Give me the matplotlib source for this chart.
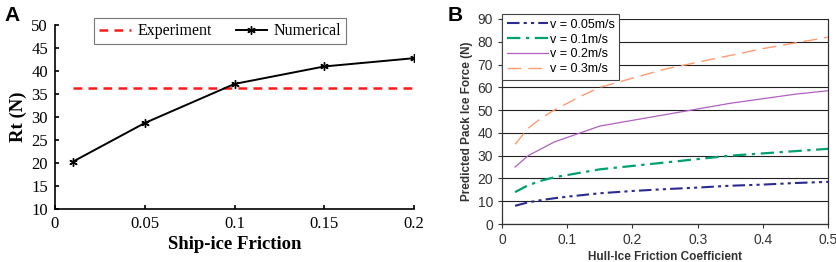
import matplotlib.pyplot as plt
from matplotlib.lines import Line2D

# Panel A data
friction_a = [0.01, 0.05, 0.1, 0.15, 0.2]
rt_numerical = [20.3, 28.7, 37.2, 41.0, 42.8]
rt_experiment = 36.3

# Panel B data
friction_b = [0.02, 0.04, 0.06, 0.08, 0.1, 0.12, 0.15, 0.2, 0.25, 0.3, 0.35, 0.4, 0.45, 0.5]
force_v005 = [8.0, 9.5, 10.5, 11.3, 12.0, 12.6, 13.5, 14.5, 15.3, 16.0, 16.8, 17.3, 18.0, 18.5]
force_v01 = [14.0, 17.0, 19.0, 20.5, 21.5, 22.5, 24.0, 25.5, 27.0, 28.5, 30.0, 31.0, 32.0, 33.0]
force_v02 = [25.0, 30.0, 33.0, 36.0, 38.0, 40.0, 43.0, 45.5, 48.0, 50.5, 53.0, 55.0, 57.0, 58.5]
force_v03 = [35.0, 42.0, 46.5, 50.0, 53.0, 56.0, 60.0, 64.0, 68.0, 71.0, 74.0, 77.0, 79.5, 82.0]
labels_b = ['v = 0.05m/s', 'v = 0.1m/s', 'v = 0.2m/s', 'v = 0.3m/s']

fig = plt.figure(figsize=(8.37, 2.62), dpi=100)

# ---- Panel A ----
serif = 'Liberation Serif'
axa = fig.add_axes([0.0657, 0.2023, 0.429, 0.702])
axa.plot([friction_a[0], friction_a[-1]], [rt_experiment, rt_experiment],
         color='#ff1a1a', ls=(0, (3.5, 2.5)), lw=1.8, label='Experiment')
axa.plot(friction_a, rt_numerical, color='black', lw=1.4, marker=(6, 2, 0),
         ms=6, mew=1.0, label='Numerical')
axa.set_xlim(0, 0.2)
axa.set_ylim(10, 50)
axa.set_xticks([0, 0.05, 0.1, 0.15, 0.2])
axa.set_xticklabels(['0', '0.05', '0.1', '0.15', '0.2'])
axa.set_yticks(range(10, 51, 5))
axa.spines['top'].set_visible(False)
axa.spines['right'].set_visible(False)
for s in ('left', 'bottom'):
    axa.spines[s].set_linewidth(1.2)
axa.tick_params(direction='in', length=3, width=1.2, labelsize=12, pad=5)
for lab in axa.get_xticklabels() + axa.get_yticklabels():
    lab.set_fontfamily(serif)
axa.set_xlabel('Ship-ice Friction', fontfamily=serif, fontsize=13.5, fontweight='bold', labelpad=3)
axa.set_ylabel('Rt (N)', fontfamily=serif, fontsize=13.5, fontweight='bold', labelpad=3)
leg = axa.legend(loc='upper center', bbox_to_anchor=(0.46, 1.08), ncol=2, frameon=True,
                 fancybox=False, edgecolor='#555555', prop={'family': serif, 'size': 11.5},
                 handlelength=2.0, columnspacing=1.5, borderpad=0.3, handletextpad=0.4)
leg.get_frame().set_linewidth(0.8)
fig.text(0.005, 0.92, 'A', fontsize=15, fontweight='bold', family='Liberation Sans')

# ---- Panel B ----
axb = fig.add_axes([0.5998, 0.145, 0.3895, 0.7825])
axb.yaxis.grid(True, color='#222222', lw=0.8)
axb.set_axisbelow(True)
axb.plot(friction_b, force_v005, color='#2a2a90', lw=1.5, ls=(0, (6, 2, 1.5, 2, 1.5, 2)))
axb.plot(friction_b, force_v01, color='#00a070', lw=1.6, ls=(0, (6, 2.5, 1.5, 2.5)))
axb.plot(friction_b, force_v02, color='#b060c0', lw=0.9, ls='-')
axb.plot(friction_b, force_v03, color='#ff9a70', lw=1.0, ls=(0, (10, 5)))
axb.set_xlim(0, 0.5)
axb.set_ylim(0, 90)
axb.set_xticks([0, 0.1, 0.2, 0.3, 0.4, 0.5])
axb.set_xticklabels(['0', '0.1', '0.2', '0.3', '0.4', '0.5'])
axb.set_yticks(range(0, 91, 10))
axb.spines['top'].set_visible(False)
for s in axb.spines.values():
    s.set_color('#333333')
    s.set_linewidth(0.9)
axb.tick_params(direction='out', length=3, width=0.8, labelsize=10, colors='#333333')
for lab in axb.get_xticklabels() + axb.get_yticklabels():
    lab.set_fontfamily('Liberation Sans')
axb.set_xlabel('Hull-Ice Friction Coefficient', fontfamily='Liberation Sans', fontsize=8.5,
               fontweight='bold', color='#333333', labelpad=3)
axb.set_ylabel('Predicted Pack Ice Force (N)', fontfamily='Liberation Sans', fontsize=8.5,
               fontweight='bold', color='#333333', labelpad=3)
handles = [
    Line2D([], [], color='#2a2a90', lw=1.5, ls=(0, (6, 2, 1.5, 2, 1.5, 2))),
    Line2D([], [], color='#00a070', lw=1.6, ls=(0, (6, 2.5, 1.5, 2.5))),
    Line2D([], [], color='#b060c0', lw=0.9, ls='-'),
    Line2D([], [], color='#ff9a70', lw=1.0, ls=(0, (10, 5))),
]
legb = axb.legend(handles, labels_b, loc='upper left', bbox_to_anchor=(0.0, 1.025), frameon=True,
                  fancybox=False, edgecolor='#444444', framealpha=1,
                  prop={'family': 'Liberation Sans', 'size': 9}, handlelength=3.3,
                  borderpad=0.4, labelspacing=0.22, handletextpad=0.1, borderaxespad=0)
legb.get_frame().set_linewidth(0.8)
fig.text(0.535, 0.92, 'B', fontsize=15, fontweight='bold', family='Liberation Sans')

fig.savefig('out.png', dpi=100)
